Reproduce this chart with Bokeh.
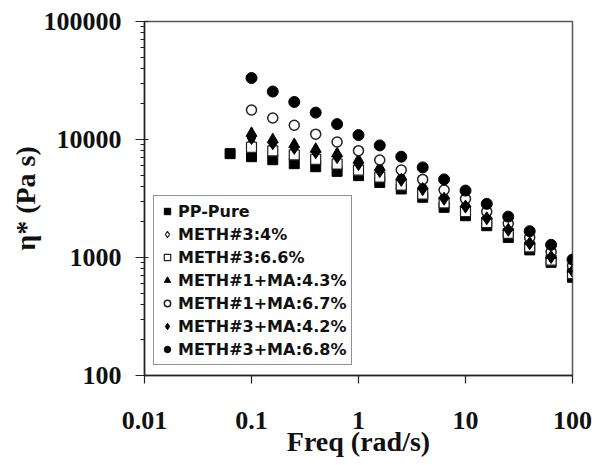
from bokeh.plotting import figure
from bokeh.models import Range1d, FixedTicker, Legend, LegendItem
from bokeh.embed import file_html
from bokeh.resources import INLINE

# ---- data ----
freq = [0.1, 0.158, 0.251, 0.398, 0.631, 1.0, 1.58, 2.51, 3.98, 6.31,
        10.0, 15.8, 25.1, 39.8, 63.1, 100.0]
freq_pp = [0.0631] + freq

pp_pure = [7590, 7150, 6740, 6240, 5880, 5370, 4940, 4330, 3810, 3240,
           2660, 2260, 1860, 1480, 1160, 910, 680]
meth3_4 = [9300, 8600, 7900, 7200, 6600, 5800, 5050, 4300, 3600, 3000,
           2550, 2050, 1650, 1270, 980, 750]
meth3_66 = [8600, 8000, 7400, 6800, 6200, 5500, 4800, 4100, 3450, 2900,
            2450, 1980, 1600, 1230, 950, 730]
meth1ma_43 = [11300, 10000, 9100, 8300, 7600, 6700, 5800, 4850, 4050, 3350,
              2850, 2250, 1800, 1380, 1050, 800]
meth1ma_67 = [17800, 15200, 13200, 11100, 9530, 8040, 6700, 5520, 4590, 3730,
              3150, 2450, 1940, 1480, 1120, 850]
meth3ma_42 = [10300, 9300, 8500, 7800, 7100, 6200, 5400, 4550, 3800, 3150,
              2700, 2150, 1720, 1320, 1010, 770]
meth3ma_68 = [33200, 25500, 20800, 16900, 13500, 10900, 8910, 7150, 5800, 4590,
              3690, 2850, 2220, 1670, 1280, 960]

x_ticks = [0.01, 0.1, 1, 10, 100]
x_tick_labels = ["0.01", "0.1", "1", "10", "100"]
y_ticks = [100, 1000, 10000, 100000]
y_tick_labels = ["100", "1000", "10000", "100000"]
y_minor = [m * d for d in (100, 1000, 10000) for m in range(2, 10)]

p = figure(width=598, height=465, x_axis_type="log", y_axis_type="log",
           x_range=Range1d(0.01, 100), y_range=Range1d(100, 100000),
           output_backend="svg", toolbar_location=None,
           min_border_left=144, min_border_right=26,
           min_border_top=21, min_border_bottom=90)

p.xgrid.visible = False
p.ygrid.visible = False
p.outline_line_color = "#555555"
p.outline_line_width = 1.5
p.background_fill_color = "white"
p.border_fill_color = "white"

serif = "Liberation Serif"
xa = p.xaxis[0]
ya = p.yaxis[0]
xa.ticker = FixedTicker(ticks=x_ticks, minor_ticks=[])
xa.major_label_overrides = {t: l for t, l in zip(x_ticks, x_tick_labels)}
ya.ticker = FixedTicker(ticks=y_ticks, minor_ticks=y_minor)
ya.major_label_overrides = {t: l for t, l in zip(y_ticks, y_tick_labels)}

for ax in (xa, ya):
    ax.axis_line_color = "#222222"
    ax.axis_line_width = 1.5
    ax.major_tick_line_color = "#222222"
    ax.minor_tick_line_color = "#222222"
    ax.major_tick_line_width = 1.2
    ax.minor_tick_line_width = 1
    ax.major_label_text_font = serif
    ax.major_label_text_font_style = "bold"
    ax.major_label_text_font_size = "26px"
    ax.major_label_text_color = "#111111"
    ax.axis_label_text_font = serif
    ax.axis_label_text_font_style = "bold"
    ax.axis_label_text_font_size = "28px"
    ax.axis_label_text_color = "#111111"

xa.axis_label = "Freq (rad/s)"
xa.major_tick_out = 8
xa.major_tick_in = 0
xa.major_label_standoff = 28
xa.axis_label_standoff = -6

ya.axis_label = "η* (Pa s)"
ya.axis_label_standoff = 0
ya.major_tick_out = 9
ya.major_tick_in = 4
ya.minor_tick_out = 4
ya.minor_tick_in = 0
ya.major_label_standoff = 14

dark = "#222222"
r_pp = p.scatter(freq_pp, pp_pure, marker="square", size=10,
                 fill_color="black", line_color="black")
r_d4 = p.scatter(freq, meth3_4, marker="diamond", size=13,
                 fill_color="white", line_color=dark, line_width=1.2)
r_s66 = p.scatter(freq, meth3_66, marker="square", size=10,
                  fill_color="white", line_color=dark, line_width=1.2)
r_t43 = p.scatter(freq, meth1ma_43, marker="triangle", size=11,
                  fill_color="black", line_color="black")
r_c67 = p.scatter(freq, meth1ma_67, marker="circle", size=10,
                  fill_color="white", line_color=dark, line_width=1.5)
r_d42 = p.scatter(freq, meth3ma_42, marker="diamond", size=13,
                  fill_color="black", line_color="black")
r_c68 = p.scatter(freq, meth3ma_68, marker="circle", size=11,
                  fill_color="black", line_color="black")

legend = Legend(items=[
    LegendItem(label="PP-Pure", renderers=[r_pp]),
    LegendItem(label="METH#3:4%", renderers=[r_d4]),
    LegendItem(label="METH#3:6.6%", renderers=[r_s66]),
    LegendItem(label="METH#1+MA:4.3%", renderers=[r_t43]),
    LegendItem(label="METH#1+MA:6.7%", renderers=[r_c67]),
    LegendItem(label="METH#3+MA:4.2%", renderers=[r_d42]),
    LegendItem(label="METH#3+MA:6.8%", renderers=[r_c68]),
], location=(9, 10))
legend.label_text_font = "DejaVu Sans"
legend.label_text_font_style = "bold"
legend.label_text_font_size = "16px"
legend.label_text_color = "#111111"
legend.label_height = 20
legend.glyph_height = 20
legend.glyph_width = 16
legend.label_standoff = 3
legend.spacing = 3
legend.padding = 5
legend.margin = 0
legend.border_line_color = "#222222"
legend.border_line_width = 1.5
legend.background_fill_color = "white"
legend.background_fill_alpha = 1.0
p.add_layout(legend)

open("out.html", "w").write(file_html(p, INLINE))
